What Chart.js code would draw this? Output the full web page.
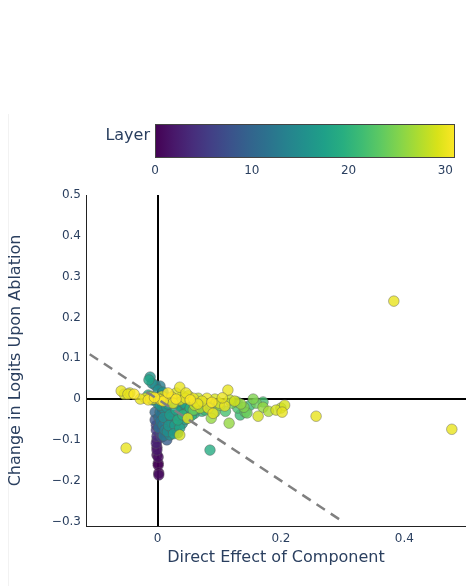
<!DOCTYPE html>
<html>
<head>
<meta charset="utf-8">
<script src="https://cdn.jsdelivr.net/npm/chart.js@4/dist/chart.umd.min.js"></script>
<style>
  html, body { margin: 0; padding: 0; background: #fff; }
  #wrap { width: 466px; height: 586px; position: relative; }
</style>
</head>
<body>
<div id="wrap"><canvas id="c" width="466" height="586"></canvas></div>
<script>
// Direct effect of each component vs. change in logits when it is ablated
const effectX = [
  -0.001,-0.001,-0.001,0.001,0.002,-0.002,-0.001,0.001,0.001,0.002,-0.001,-0.002,0.007,0.015,0.006,-0.004,-0.004,-0.002,
  -0.012,-0.014,-0.009,-0.004,0.004,0.001,0.009,-0.015,0.004,0.012,0.004,0.020,0.017,0.023,0.009,0.028,0.012,0.025,0.036,0.020,0.033,0.041,0.049,0.030,0.040,0.053,0.061,0.017,0.028,0.045,0.069,0.077,0.033,-0.009,-0.012,
  0.006,0.010,0.002,0.015,0.025,0.035,0.045,0.055,
  0.000,0.008,0.014,0.022,0.030,0.018,0.026,0.040,0.050,0.060,0.065,0.072,0.080,0.085,0.005,0.002,0.010,0.016,0.038,0.048,
  -0.059,-0.054,-0.048,-0.038,-0.045,-0.020,-0.015,-0.007,0.001,0.009,0.017,0.023,0.030,0.036,0.036,0.045,0.053,0.061,0.058,0.066,0.080,0.093,0.082,0.069,0.109,0.114,0.117,0.049,0.036,0.030,0.046,0.017,0.007,-0.028,-0.051,
  0.383,0.477,0.257,0.163,0.192,0.202,0.206,0.200,-0.010,0.012,0.040,0.072,0.100,0.090,0.060,
  0.025,0.050,0.105,0.125,0.088,0.005,-0.005,0.065,
  0.058,0.087,0.116,0.129,0.130,0.142,0.145,0.155,0.171,0.171,0.085,0.101,0.093,0.134,0.120,0.110,0.075,0.150,0.140,
  0.135,0.160,0.180
];
const ablationY = [
  -0.100,-0.118,-0.137,-0.157,-0.186,-0.108,-0.125,-0.142,-0.162,-0.181,-0.091,-0.076,-0.093,-0.100,-0.083,-0.051,-0.032,-0.064,
  0.054,0.047,0.039,0.034,0.032,0.022,0.017,0.010,-0.015,-0.027,-0.032,-0.039,-0.051,-0.056,-0.064,-0.064,-0.076,-0.076,-0.071,-0.088,-0.051,-0.039,-0.032,-0.027,-0.020,-0.022,-0.027,-0.012,-0.010,-0.012,-0.015,-0.027,-0.083,-0.002,0.005,
  0.005,-0.045,-0.045,-0.020,-0.040,-0.040,-0.050,-0.040,
  -0.010,-0.020,-0.035,-0.045,-0.055,-0.065,-0.085,-0.060,-0.045,-0.035,-0.020,-0.030,-0.020,-0.012,-0.055,-0.070,-0.090,-0.080,-0.030,-0.020,
  0.020,0.012,0.012,0.012,0.015,0.002,-0.002,0.000,0.002,-0.005,0.000,0.005,0.000,-0.002,0.029,0.002,-0.002,-0.007,0.002,0.002,0.002,0.000,-0.022,-0.022,-0.017,0.022,-0.002,-0.047,-0.088,0.015,0.015,0.015,0.007,0.000,-0.120,
  0.240,-0.074,-0.042,-0.042,-0.027,-0.032,-0.015,-0.022,0.006,0.003,0.008,-0.005,-0.010,-0.035,-0.015,
  -0.010,0.008,0.003,-0.005,-0.008,-0.002,0.004,-0.012,
  -0.027,-0.047,-0.059,-0.007,-0.022,-0.032,-0.034,0.000,-0.007,-0.020,-0.125,-0.015,-0.032,-0.039,-0.010,-0.030,-0.010,-0.015,-0.020,
  -0.012,-0.010,-0.030
];
const layerIdx = [
  2,1,1,0,1,3,2,1,0,0,4,5,6,9,7,8,10,6,
  16,18,15,14,13,15,16,19,16,15,12,17,14,16,13,17,14,16,18,15,19,20,19,18,17,20,21,17,19,18,20,21,16,17,20,
  14,15,11,16,15,17,18,20,
  15,14,13,15,14,16,17,16,17,19,18,20,21,22,12,11,13,15,16,17,
  30,29,30,31,29,30,31,29,30,31,28,30,31,29,30,30,31,29,30,28,30,29,30,27,30,30,28,30,29,29,30,31,29,30,30,
  30,30,30,29,29,30,29,28,28,27,28,30,29,30,28,
  30,29,30,29,31,30,31,30,
  24,26,26,23,22,23,24,25,22,26,19,25,24,21,24,22,23,21,25,
  26,24,27
];

// reference line y = -x
const refLineX = [-0.11, 0.3];
const refLineY = [0.11, -0.3];

const xTicks = [0, 0.2, 0.4];
const yTicks = [-0.3, -0.2, -0.1, 0, 0.1, 0.2, 0.3, 0.4, 0.5];
const layerTicks = [0, 10, 20, 30];
const layerMax = 31;

const INK = '#2a3f5f';
const FONT = '"DejaVu Sans", Verdana, sans-serif';

const viridis = [
  [0,'#440154'],[0.0627,'#48186a'],[0.1255,'#472d7b'],[0.1882,'#424086'],[0.2510,'#3b528b'],
  [0.3137,'#33638d'],[0.3765,'#2c728e'],[0.4392,'#26828e'],[0.5020,'#21918c'],[0.5647,'#1fa088'],
  [0.6275,'#28ae80'],[0.6902,'#3fbc73'],[0.7529,'#5ec962'],[0.8157,'#84d44b'],[0.8784,'#addc30'],
  [0.9412,'#d8e219'],[1,'#fde725']
];
function hexRgb(h) { return [1,3,5].map(i => parseInt(h.slice(i, i + 2), 16)); }
function viridisAt(t, alpha) {
  t = Math.max(0, Math.min(1, t));
  for (let i = 1; i < viridis.length; i++) {
    if (t <= viridis[i][0]) {
      const [t0, c0] = viridis[i - 1], [t1, c1] = viridis[i];
      const f = (t - t0) / (t1 - t0);
      const a = hexRgb(c0), b = hexRgb(c1);
      const rgb = a.map((v, k) => Math.round(v + (b[k] - v) * f));
      return `rgba(${rgb[0]},${rgb[1]},${rgb[2]},${alpha})`;
    }
  }
  return viridis[viridis.length - 1][1];
}

// draw lower layers first so later layers sit on top
const order = effectX.map((_, i) => i).sort((a, b) => layerIdx[a] - layerIdx[b]);
const points = order.map(i => ({ x: effectX[i], y: ablationY[i], layer: layerIdx[i] }));
const pointColors = points.map(p => viridisAt(p.layer / layerMax, 0.8));

const fmt = v => {
  if (Math.abs(v) < 1e-9) return '0';
  const s = String(Math.round(v * 10) / 10);
  return s.replace('-', '\u2212');
};

const colorbarPlugin = {
  id: 'colorbar',
  afterDraw(chart) {
    const ctx = chart.ctx;
    const x0 = 155, x1 = 455, y0 = 124, y1 = 158;
    ctx.save();
    // faint page edge
    ctx.strokeStyle = 'rgba(0,0,0,0.05)';
    ctx.lineWidth = 1;
    ctx.beginPath(); ctx.moveTo(8.5, 114); ctx.lineTo(8.5, 586); ctx.stroke();

    const g = ctx.createLinearGradient(x0, 0, x1, 0);
    viridis.forEach(([t, c]) => g.addColorStop(t, c));
    ctx.fillStyle = g;
    ctx.fillRect(x0, y0, x1 - x0, y1 - y0);
    ctx.strokeStyle = '#444';
    ctx.lineWidth = 1;
    ctx.strokeRect(x0 + 0.5, y0 + 0.5, x1 - x0 - 1, y1 - y0 - 1);

    ctx.fillStyle = INK;
    ctx.font = '12px ' + FONT;
    ctx.textAlign = 'center';
    ctx.textBaseline = 'middle';
    layerTicks.forEach(v => {
      const px = x0 + (x1 - x0) * v / layerMax;
      ctx.fillText(String(v), px, 171);
    });
    ctx.font = '16px ' + FONT;
    ctx.textAlign = 'right';
    ctx.fillText('Layer', 150, 136);
    ctx.restore();
  }
};

new Chart(document.getElementById('c'), {
  type: 'scatter',
  data: {
    datasets: [
      {
        type: 'line',
        data: refLineX.map((x, i) => ({ x, y: refLineY[i] })),
        borderColor: '#808080',
        borderWidth: 2.5,
        borderDash: [10, 7],
        pointRadius: 0,
        fill: false,
        order: 0
      },
      {
        data: points,
        pointBackgroundColor: pointColors,
        pointBorderColor: 'rgba(90,90,90,0.55)',
        pointBorderWidth: 0.8,
        pointRadius: 5.3,
        pointHoverRadius: 5.3,
        order: 1
      }
    ]
  },
  options: {
    responsive: false,
    animation: false,
    devicePixelRatio: 1,
    layout: { autoPadding: false, padding: { top: 195, right: 0, left: 0, bottom: 0 } },
    plugins: { legend: { display: false }, tooltip: { enabled: false } },
    scales: {
      x: {
        type: 'linear',
        min: -0.116,
        max: 0.5,
        afterFit: s => { s.height = 60; s.paddingLeft = 0; s.paddingRight = 0; },
        afterBuildTicks: s => { s.ticks = xTicks.map(v => ({ value: v })); },
        border: { display: true, color: '#222', width: 1 },
        grid: {
          drawTicks: false,
          lineWidth: 2,
          color: c => (c.tick && Math.abs(c.tick.value) < 1e-9) ? '#000' : 'rgba(0,0,0,0)'
        },
        ticks: { color: INK, font: { family: FONT, size: 12 }, padding: 6, maxRotation: 0, callback: v => fmt(v) },
        title: { display: true, text: 'Direct Effect of Component', color: INK, font: { family: FONT, size: 16 }, padding: { top: 0, bottom: 19 } }
      },
      y: {
        type: 'linear',
        min: -0.311,
        max: 0.5,
        afterFit: s => { s.width = 86; s.paddingTop = 0; s.paddingBottom = 0; },
        afterBuildTicks: s => { s.ticks = yTicks.map(v => ({ value: v })); },
        border: { display: true, color: '#222', width: 1 },
        grid: {
          drawTicks: false,
          lineWidth: 2,
          color: c => (c.tick && Math.abs(c.tick.value) < 1e-9) ? '#000' : 'rgba(0,0,0,0)'
        },
        ticks: { color: INK, font: { family: FONT, size: 12 }, padding: 5, callback: v => fmt(v) },
        title: { display: true, text: 'Change in Logits Upon Ablation', color: INK, font: { family: FONT, size: 16 }, padding: { top: 6, bottom: 0 } }
      }
    }
  },
  plugins: [colorbarPlugin]
});
</script>
</body>
</html>
